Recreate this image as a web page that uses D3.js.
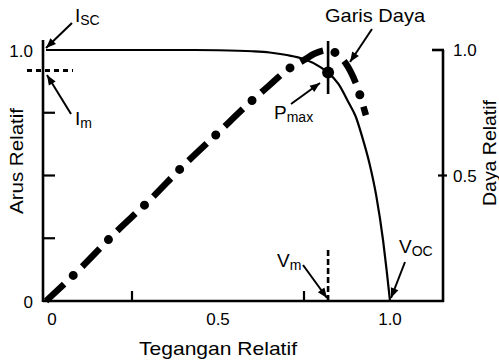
<!DOCTYPE html>
<html>
<head>
<meta charset="utf-8">
<script src="https://cdn.jsdelivr.net/npm/d3@7"></script>
<style>
  body { margin: 0; background: #fff; }
  svg { display: block; font-family: "Liberation Sans", Arial, sans-serif; }
</style>
</head>
<body>
<div id="chart"></div>
<script>
// I-V curve (relative voltage vs relative current)
const ivVoltage = [0, 0.1, 0.2, 0.3, 0.4, 0.5, 0.6, 0.65, 0.7, 0.75, 0.8, 0.82, 0.85, 0.88, 0.9, 0.92, 0.94, 0.96, 0.98, 0.99, 1.0];
const ivCurrent = [1, 1, 1, 1, 1, 0.999, 0.995, 0.99, 0.98, 0.964, 0.93, 0.91, 0.865, 0.79, 0.736, 0.65, 0.55, 0.42, 0.24, 0.125, 0];

// power curve (relative voltage vs relative power)
const pwVoltage = [0, 0.1, 0.2, 0.3, 0.4, 0.5, 0.6, 0.65, 0.7, 0.75, 0.78, 0.82, 0.85, 0.87, 0.9, 0.93];
const pwPower = [0, 0.13, 0.27, 0.4, 0.54, 0.67, 0.8, 0.86, 0.92, 0.96, 0.985, 1.0, 0.98, 0.95, 0.87, 0.74];

const vMax = 0.82, iMax = 0.91;
const leftTicks = [0.25, 0.5, 0.75];
const bottomTicks = [0.25, 0.75];
const leftLabels = [{ v: 0, t: "0" }, { v: 1, t: "1.0" }];
const rightLabels = [{ v: 1, t: "1.0" }, { v: 0.5, t: "0.5" }];
const bottomLabels = [{ v: 0, t: "0" }, { v: 0.5, t: "0.5" }, { v: 1, t: "1.0" }];

const W = 499, H = 362;
const svg = d3.select("#chart").append("svg").attr("width", W).attr("height", H);

const x = d3.scaleLinear().domain([0, 1]).range([46, 390]);
const y = d3.scaleLinear().domain([0, 1]).range([301, 50]);

const axisLeftX = 43, axisRightX = 443, axisY = 301;

svg.append("defs").append("marker")
  .attr("id", "arr")
  .attr("viewBox", "0 0 10 10")
  .attr("refX", 10).attr("refY", 5)
  .attr("markerWidth", 5.5).attr("markerHeight", 5)
  .attr("markerUnits", "strokeWidth")
  .attr("orient", "auto")
  .append("path").attr("d", "M0,1 L10,5 L0,9 z").attr("fill", "#000");

// axes frame
svg.append("line").attr("x1", axisLeftX).attr("x2", axisLeftX).attr("y1", 40).attr("y2", axisY + 1)
  .attr("stroke", "#000").attr("stroke-width", 2.6);
svg.append("line").attr("x1", axisLeftX).attr("x2", axisRightX + 1).attr("y1", axisY).attr("y2", axisY)
  .attr("stroke", "#000").attr("stroke-width", 2.6);
svg.append("line").attr("x1", axisRightX).attr("x2", axisRightX).attr("y1", y(1)).attr("y2", axisY + 1)
  .attr("stroke", "#000").attr("stroke-width", 2.6);
svg.append("line").attr("x1", axisRightX - 11).attr("x2", axisRightX + 1).attr("y1", y(1)).attr("y2", y(1))
  .attr("stroke", "#000").attr("stroke-width", 2.6);
svg.append("line").attr("x1", axisRightX - 5).attr("x2", axisRightX + 4).attr("y1", y(0.5)).attr("y2", y(0.5))
  .attr("stroke", "#000").attr("stroke-width", 2.2);

svg.selectAll(".lt").data(leftTicks).enter().append("line")
  .attr("x1", axisLeftX).attr("x2", axisLeftX + 12)
  .attr("y1", d => y(d)).attr("y2", d => y(d))
  .attr("stroke", "#000").attr("stroke-width", 2.2);
svg.selectAll(".bt").data(bottomTicks).enter().append("line")
  .attr("x1", d => x(d)).attr("x2", d => x(d))
  .attr("y1", axisY).attr("y2", axisY - 10)
  .attr("stroke", "#000").attr("stroke-width", 2.2);

// tick labels
svg.selectAll(".ll").data(leftLabels).enter().append("text")
  .attr("x", 33).attr("y", d => y(d.v) + 7)
  .attr("text-anchor", "end").attr("font-size", 17).text(d => d.t);
svg.selectAll(".rl").data(rightLabels).enter().append("text")
  .attr("x", 453).attr("y", d => y(d.v) + 6)
  .attr("font-size", 17).text(d => d.t);
svg.selectAll(".bl").data(bottomLabels).enter().append("text")
  .attr("x", d => x(d.v) + 6 * (d.v === 0)).attr("y", 325)
  .attr("text-anchor", "middle").attr("font-size", 17).text(d => d.t);

// axis titles
svg.append("text").attr("x", 218).attr("y", 355).attr("text-anchor", "middle")
  .attr("font-size", 19).attr("textLength", 158).attr("lengthAdjust", "spacingAndGlyphs")
  .text("Tegangan Relatif");
svg.append("text").attr("transform", "translate(23,161) rotate(-90)").attr("text-anchor", "middle")
  .attr("font-size", 19).attr("textLength", 106).attr("lengthAdjust", "spacingAndGlyphs")
  .text("Arus Relatif");
svg.append("text").attr("transform", "translate(496,153) rotate(-90)").attr("text-anchor", "middle")
  .attr("font-size", 19).attr("textLength", 106).attr("lengthAdjust", "spacingAndGlyphs")
  .text("Daya Relatif");

// I-V curve
const ivData = ivVoltage.map((v, i) => [v, ivCurrent[i]]);
const line = d3.line().x(d => x(d[0])).y(d => y(d[1])).curve(d3.curveMonotoneX);
svg.append("path").datum(ivData).attr("d", line)
  .attr("fill", "none").attr("stroke", "#000").attr("stroke-width", 2.2);

// power curve (dash-dot)
const pwData = pwVoltage.map((v, i) => [v, pwPower[i]]);
svg.append("path").datum(pwData).attr("d", line)
  .attr("fill", "none").attr("stroke", "#000").attr("stroke-width", 6.5)
  .attr("stroke-dasharray", "25 25");
svg.append("path").datum(pwData).attr("d", line)
  .attr("fill", "none").attr("stroke", "#000").attr("stroke-width", 9)
  .attr("stroke-linecap", "round")
  .attr("stroke-dasharray", "0 50").attr("stroke-dashoffset", 12.5);

// Im dashed and Vm dashed
svg.append("line").attr("x1", 27).attr("x2", 73).attr("y1", y(iMax) - 2).attr("y2", y(iMax) - 2)
  .attr("stroke", "#000").attr("stroke-width", 3).attr("stroke-dasharray", "5 4");
svg.append("line").attr("x1", x(vMax)).attr("x2", x(vMax)).attr("y1", 250).attr("y2", axisY)
  .attr("stroke", "#000").attr("stroke-width", 2.6).attr("stroke-dasharray", "6 3");

// Pmax marker
svg.append("line").attr("x1", x(vMax)).attr("x2", x(vMax)).attr("y1", 41).attr("y2", 94)
  .attr("stroke", "#000").attr("stroke-width", 2.6);
svg.append("circle").attr("cx", x(vMax)).attr("cy", y(iMax)).attr("r", 6).attr("fill", "#000");

// annotations
function arrow(x1, y1, x2, y2) {
  svg.append("line").attr("x1", x1).attr("y1", y1).attr("x2", x2).attr("y2", y2)
    .attr("stroke", "#000").attr("stroke-width", 2).attr("marker-end", "url(#arr)");
}
function subLabel(px, py, main, sub) {
  const t = svg.append("text").attr("x", px).attr("y", py).attr("font-size", 19);
  t.append("tspan").text(main);
  t.append("tspan").attr("font-size", 14).attr("dy", 3).text(sub);
}

subLabel(75, 22, "I", "SC");
arrow(72, 23, 46, 48);
subLabel(75, 125, "I", "m");
arrow(71, 114, 47, 75);
svg.append("text").attr("x", 375).attr("y", 22).attr("text-anchor", "middle")
  .attr("font-size", 19).attr("textLength", 100).attr("lengthAdjust", "spacingAndGlyphs")
  .text("Garis Daya");
arrow(372, 29, 350, 62);
subLabel(274, 119, "P", "max");
arrow(291, 104, 320, 83);
subLabel(277, 267, "V", "m");
arrow(303, 265, 327, 298);
subLabel(399, 253, "V", "OC");
arrow(405, 262, 391, 298);
</script>
</body>
</html>
